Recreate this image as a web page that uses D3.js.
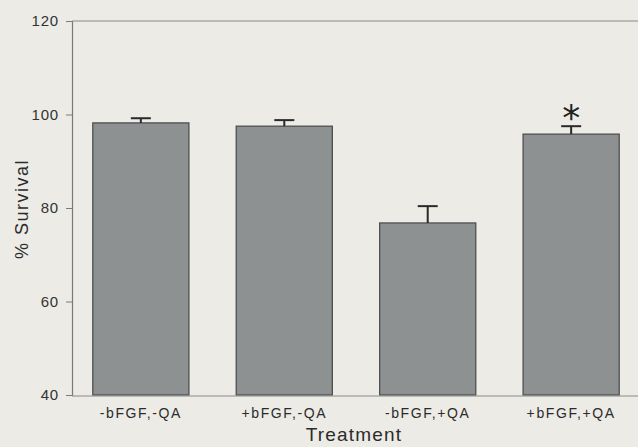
<!DOCTYPE html>
<html>
<head>
<meta charset="utf-8">
<script src="https://cdn.jsdelivr.net/npm/d3@7"></script>
<style>
  html, body { margin: 0; padding: 0; background: #ecebe6; }
  svg { display: block; font-family: "Liberation Sans", Arial, sans-serif; }
</style>
</head>
<body>
<div id="canvas"></div>
<script>
// values
const categories = ["-bFGF,-QA", "+bFGF,-QA", "-bFGF,+QA", "+bFGF,+QA"];
const survival = [98.2, 97.5, 76.8, 95.8];
const sem = [1.0, 1.3, 3.6, 1.7];
const significant = [false, false, false, true];
const yTicks = [40, 60, 80, 100, 120];

const width = 638;
const height = 447;
const margin = { top: 21, left: 72, bottom: 52, right: 0 };

const svg = d3.select("#canvas").append("svg")
  .attr("width", width)
  .attr("height", height);

svg.append("rect")
  .attr("width", width).attr("height", height)
  .attr("fill", "#ecebe6");

const y = d3.scaleLinear()
  .domain([40, 120])
  .range([height - margin.bottom, margin.top]);

const x = d3.scaleBand()
  .domain(categories)
  .range([margin.left, 640])
  .paddingInner(0.33)
  .paddingOuter(0.145);

const data = categories.map((c, i) => ({ cat: c, v: survival[i], e: sem[i], sig: significant[i] }));

// bars
svg.selectAll("rect.bar").data(data).enter().append("rect")
  .attr("class", "bar")
  .attr("x", d => x(d.cat))
  .attr("y", d => y(d.v))
  .attr("width", x.bandwidth())
  .attr("height", d => y(40) - y(d.v))
  .attr("fill", "#8e9192")
  .attr("stroke", "#4d4f50")
  .attr("stroke-width", 1.3);

// error bars (upper only)
const cx = d => x(d.cat) + x.bandwidth() / 2;
const err = svg.append("g").attr("stroke", "#2a2a2a").attr("stroke-width", 2);
err.selectAll("line.stem").data(data).enter().append("line")
  .attr("x1", cx).attr("x2", cx)
  .attr("y1", d => y(d.v)).attr("y2", d => y(d.v + d.e));
err.selectAll("line.cap").data(data).enter().append("line")
  .attr("x1", d => cx(d) - 10).attr("x2", d => cx(d) + 10)
  .attr("y1", d => y(d.v + d.e)).attr("y2", d => y(d.v + d.e));

// significance marker
svg.selectAll("text.sig").data(data.filter(d => d.sig)).enter().append("text")
  .attr("x", cx)
  .attr("y", d => y(d.v + d.e) + 4)
  .attr("text-anchor", "middle")
  .attr("font-family", "DejaVu Sans, sans-serif")
  .attr("font-size", 36)
  .attr("fill", "#222")
  .text("*");

// y axis
const yAxis = svg.append("g")
  .attr("transform", `translate(${margin.left},0)`)
  .call(d3.axisLeft(y).tickValues(yTicks).tickSize(6).tickPadding(7));
yAxis.select(".domain").attr("stroke", "#7a7a7a").attr("stroke-width", 1.2);
yAxis.selectAll(".tick line").attr("stroke", "#7a7a7a");
yAxis.selectAll(".tick text")
  .attr("font-size", 15)
  .attr("letter-spacing", 0.8)
  .attr("fill", "#333");

// top frame line and baseline
svg.append("line")
  .attr("x1", margin.left).attr("x2", width)
  .attr("y1", y(120)).attr("y2", y(120))
  .attr("stroke", "#8a8a8a").attr("stroke-width", 1.2);
svg.append("line")
  .attr("x1", margin.left).attr("x2", width)
  .attr("y1", y(40) + 1).attr("y2", y(40) + 1)
  .attr("stroke", "#8a8a8a").attr("stroke-width", 1.2);

// x axis labels
const xAxis = svg.append("g")
  .attr("transform", `translate(0,${y(40)})`)
  .call(d3.axisBottom(x).tickSize(0).tickPadding(13));
xAxis.select(".domain").remove();
xAxis.selectAll(".tick text")
  .attr("font-size", 14)
  .attr("letter-spacing", 1.6)
  .attr("fill", "#2b2b2b");

// axis titles
svg.append("text")
  .attr("x", 354)
  .attr("y", 441)
  .attr("text-anchor", "middle")
  .attr("font-size", 19)
  .attr("letter-spacing", 1.2)
  .attr("fill", "#2b2b2b")
  .text("Treatment");

svg.append("text")
  .attr("transform", `translate(28,${209}) rotate(-90)`)
  .attr("text-anchor", "middle")
  .attr("font-size", 18)
  .attr("letter-spacing", 1.5)
  .attr("fill", "#2b2b2b")
  .text("% Survival");
</script>
</body>
</html>
